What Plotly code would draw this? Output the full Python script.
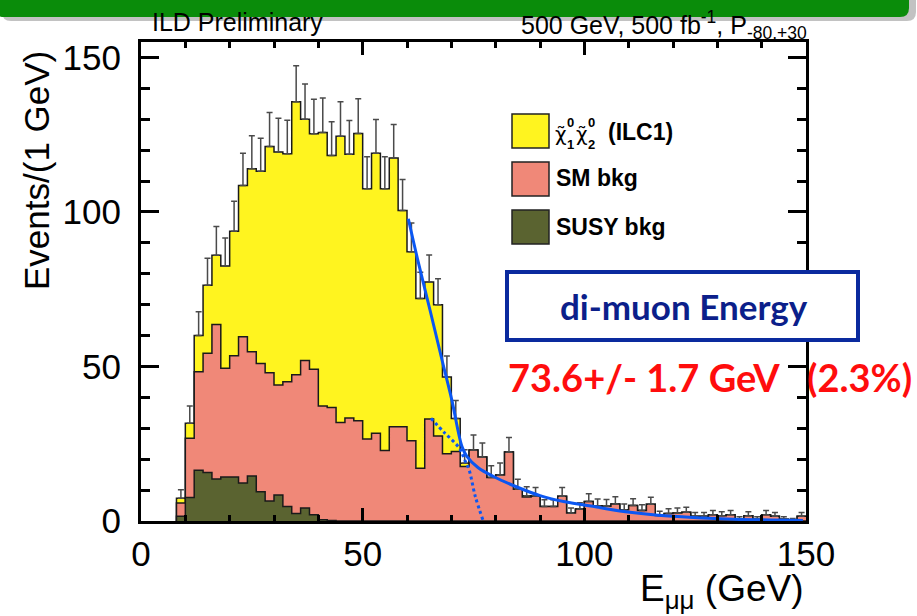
import numpy as np
import plotly.graph_objects as go

# ---------------- data ----------------
bin_lo = list(range(8, 150, 2))          # 2 GeV bins, 8 .. 150 GeV
susy_bkg = [1.5, 7.6, 16.4, 15.7, 13.6, 14.2, 14.2, 12.3, 14.6, 9.5,
            6.5, 8.4, 4.7, 2.4, 4.2, 2.0, 0.4, 0.2] + [0.0] * 53
sm_bkg = [4.3, 19.2, 31.9, 38.6, 50.0, 35.2, 39.3, 47.3, 40.2, 41.5,
          41.5, 35.6, 40.4, 44.9, 47.7, 47.1, 36.8, 36.5, 31.9, 33.3,
          32.4, 26.5, 28.4, 22.8, 30.5, 30.5, 26.0, 17.1, 33.0, 27.5,
          21.8, 22.5, 17.6, 23.0, 20.7, 14.1, 14.9, 22.3, 10.3, 7.8,
          8.0, 4.7, 4.7, 8.0, 2.6, 3.9, 6.3, 4.9, 4.8, 5.5,
          3.6, 5.0, 3.4, 5.4, 1.8, 2.4, 2.6, 2.8, 1.5, 1.5,
          2.0, 1.7, 2.0, 0.6, 1.7, 0.6, 2.0, 1.5, 0.6, 0.3, 1.5]
signal = [1.6, 4.8, 11.7, 22.0, 22.4, 33.1, 40.3, 49.0, 59.2, 62.2,
          73.2, 75.4, 73.7, 88.4, 78.1, 76.2, 88.5, 81.6, 92.6, 85.4,
          93.0, 81.0, 90.6, 84.7, 87.0, 70.0, 61.1, 54.9, 44.3, 42.5,
          24.8, 10.7, 1.1, 0.0, 0.0, 0.0, 0.0, 0.0, 0.0, 0.4] + [0.0] * 31

# fitted edge curve (solid) and edge component (dotted)
fit_x = [60.3, 62.5, 65.2, 67.9, 70.1, 72.4, 73.5, 76.0, 79.5, 84.8, 90.0,
         95.3, 102.8, 110.3, 119.0, 133.6, 149.3]
fit_y = [97.8, 84.0, 68.2, 52.1, 39.2, 24.1, 20.9, 17.3, 14.4, 11.0, 8.2,
         6.3, 4.5, 2.8, 1.6, 0.6, 0.2]
edge_x = [65.4, 68.5, 71.8, 73.0, 74.0, 75.4, 77.2]
edge_y = [33.2, 28.5, 23.6, 19.8, 16.6, 8.0, 0.0]

# ---------------- derived stacks ----------------
lo = np.array(bin_lo, dtype=float)
s1 = np.array(susy_bkg)
s2 = s1 + np.array(sm_bkg)
s3 = s2 + np.array(signal)
err_up = np.sqrt(s3)            # Poisson error bars as drawn

W, H = 917, 616
L, R, T, B = 141, 806, 42, 521


def px(x):
    return (x - L) / (R - L)


def py(y):
    return (B - y) / (B - T)


def step(c):
    xs = [lo[0]] + list(lo) + [150.0]
    ys = [0.0] + list(c) + [c[-1]]
    return xs, ys


fig = go.Figure()
outline = dict(color='#1a1a1a', width=1.5, shape='hv')
for cum, col in [(s3, '#fff41f'), (s2, '#f08878'), (s1, '#5a6330')]:
    xs, ys = step(cum)
    fig.add_trace(go.Scatter(x=xs, y=ys, mode='lines', line=outline,
                             fill='tozeroy', fillcolor=col,
                             showlegend=False, hoverinfo='skip'))

fig.add_trace(go.Scatter(
    x=lo + 1, y=s3, mode='markers', marker=dict(size=1, opacity=0),
    error_y=dict(type='data', array=err_up, arrayminus=np.zeros_like(err_up),
                 symmetric=False, color='#4a4a4a', thickness=1.5, width=3),
    showlegend=False, hoverinfo='skip'))

fig.add_trace(go.Scatter(x=fit_x, y=fit_y, mode='lines',
                         line=dict(color='#0b57f2', width=3, shape='spline'),
                         showlegend=False))
fig.add_trace(go.Scatter(x=edge_x, y=edge_y, mode='lines',
                         line=dict(color='#0b57f2', width=3, dash='dot', shape='spline'),
                         showlegend=False))

ROOTF = "Liberation Sans, Arial"
axis_common = dict(showline=True, linewidth=3, linecolor='black', mirror='allticks',
                   ticks='inside', tickwidth=3, tickcolor='black', showgrid=False,
                   zeroline=False, tickfont=dict(family=ROOTF, size=35, color='black'))
fig.update_xaxes(range=[0, 150], tickvals=[0, 50, 100, 150], ticklen=13,
                 minor=dict(dtick=10, ticklen=6, tickwidth=3, ticks='inside', tickcolor='black'),
                 **axis_common)
fig.update_yaxes(range=[0, 155], tickvals=[0, 50, 100, 150], ticklen=18,
                 ticklabelstandoff=10,
                 minor=dict(dtick=10, ticklen=9, tickwidth=3, ticks='inside', tickcolor='black'),
                 **axis_common)

shapes = []
ann = []


def rounded_bar(x0, x1, y0, y1, r):
    # rectangle with rounded bottom corners, in pixel units -> paper
    return ("M {a},{t} L {b},{t} L {b},{br} Q {b},{bt} {bl},{bt} L {ar},{bt} "
            "Q {a},{bt} {a},{br} Z").format(
        a=px(x0), b=px(x1), t=py(y0), bt=py(y1), br=py(y1 - r),
        bl=px(x1 - r), ar=px(x0 + r))


# green banner with a soft shadow
shapes.append(dict(type='path', xref='paper', yref='paper',
                   path=rounded_bar(2, 916, -5, 21, 9),
                   fillcolor='rgba(80,80,80,0.35)', line=dict(width=0), layer='above'))
shapes.append(dict(type='path', xref='paper', yref='paper',
                   path=rounded_bar(-5, 909, -5, 17, 9),
                   fillcolor='#0a8c0a', line=dict(width=0), layer='above'))

# legend
leg = [(114, '#fff41f'), (162, '#f08878'), (210, '#5a6330')]
for y0, col in leg:
    shapes.append(dict(type='rect', xref='paper', yref='paper', x0=px(512), x1=px(549),
                       y0=py(y0 + 34), y1=py(y0), fillcolor=col,
                       line=dict(color='#222222', width=1.5), layer='above'))
bold = dict(family="Liberation Sans", size=23, color='black')
ann.append(dict(x=px(554), y=py(178), text='<b>SM bkg</b>', xanchor='left', yanchor='middle', font=bold))
ann.append(dict(x=px(554), y=py(227), text='<b>SUSY bkg</b>', xanchor='left', yanchor='middle', font=bold))
ann.append(dict(x=px(606), y=py(132), text='<b>(ILC1)</b>', xanchor='left', yanchor='middle', font=bold))
for cx, sub in [(553, '1'), (574, '2')]:
    ann.append(dict(x=px(cx), y=py(134), text='χ\u0303', xanchor='left', yanchor='middle',
                    font=dict(family="DejaVu Sans", size=20, color='black')))
    ann.append(dict(x=px(cx + 12), y=py(123), text='<b>0</b>', xanchor='left', yanchor='middle',
                    font=dict(family="Liberation Sans", size=13, color='black')))
    ann.append(dict(x=px(cx + 12), y=py(145), text='<b>%s</b>' % sub, xanchor='left', yanchor='middle',
                    font=dict(family="Liberation Sans", size=13, color='black')))

# di-muon box
shapes.append(dict(type='rect', xref='paper', yref='paper', x0=px(507), x1=px(858),
                   y0=py(340), y1=py(272), fillcolor='white',
                   line=dict(color='#0a2a9e', width=4), layer='above'))
ann.append(dict(x=px(684), y=py(306), text='<b>di-muon Energy</b>', xanchor='center',
                yanchor='middle', font=dict(family='Lato', size=35, color='#0c1f8a')))
ann.append(dict(x=px(782), y=py(377), text='<b>73.6+/- 1.7 GeV</b>', xanchor='right',
                yanchor='middle', font=dict(family='Lato', size=38, color='#ff0d0d')))
ann.append(dict(x=px(805), y=py(377), text='<b>(2.3%)</b>', xanchor='left',
                yanchor='middle', font=dict(family='Lato', size=38, color='#ff0d0d')))

# header texts
ann.append(dict(x=px(150), y=py(22), text='ILD Preliminary', xanchor='left', yanchor='middle',
                font=dict(family=ROOTF, size=25, color='black')))
ann.append(dict(x=px(809), y=py(25), text='500 GeV, 500 fb<sup>-1</sup>, P<sub>-80,+30</sub>',
                xanchor='right', yanchor='middle', font=dict(family=ROOTF, size=25, color='black')))

# axis titles
ann.append(dict(x=px(37), y=py(171), text='Events/(1 GeV)', textangle=-90, xanchor='center',
                yanchor='middle', font=dict(family=ROOTF, size=35, color='black')))
ann.append(dict(x=px(806), y=py(591), text='E<sub>μμ</sub> (GeV)', xanchor='right',
                yanchor='middle', font=dict(family=ROOTF, size=37, color='black')))

for a in ann:
    a.update(xref='paper', yref='paper', showarrow=False)

fig.update_layout(width=W, height=H, margin=dict(l=L, r=W - R, t=T, b=H - B),
                  plot_bgcolor='white', paper_bgcolor='white',
                  shapes=shapes, annotations=ann, showlegend=False)
fig.write_html("out.html")
